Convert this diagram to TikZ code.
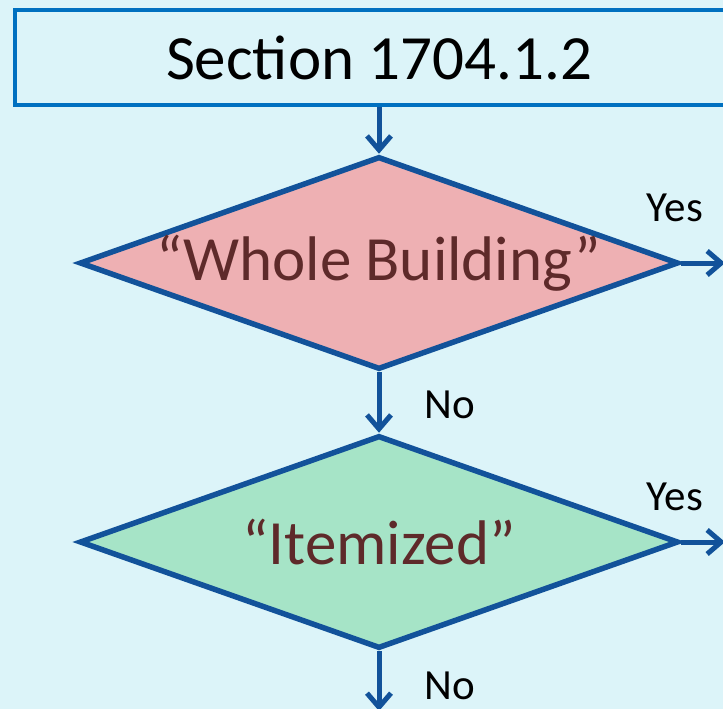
\documentclass[tikz,border=0pt]{standalone}
\usepackage{xcolor}
\usepackage{fontspec}
\setmainfont{Carlito}
\usetikzlibrary{shapes.geometric,arrows.meta,positioning}

\definecolor{bgcyan}{HTML}{DCF4F9}
\definecolor{boxblue}{HTML}{0070C0}
\definecolor{flowblue}{HTML}{12529A}
\definecolor{pinkfill}{HTML}{EEB0B3}
\definecolor{greenfill}{HTML}{A6E4C7}
\definecolor{quotered}{HTML}{5E2A2A}

\begin{document}
\begin{tikzpicture}[x=1pt, y=-1pt,
    box/.style={rectangle, draw=boxblue, line width=4.5pt, minimum width=728pt, minimum height=95pt, inner sep=0pt, font=\fontsize{63}{70}\selectfont},
    decision/.style={diamond, draw=flowblue, line width=5.5pt, minimum width=599pt, minimum height=213pt, inner sep=0pt, text=quotered, font=\fontsize{63}{70}\selectfont},
    lab/.style={font=\fontsize{43}{48}\selectfont, inner sep=0pt},
    arrow/.style={-{Straight Barb[length=14pt, width=24pt]}, line width=5pt, draw=flowblue}
]
    \fill[bgcyan] (0,0) rectangle (723,709);
    \useasboundingbox (0,0) rectangle (723,709);
    \clip (0,0) rectangle (723,709);

    % Section
    \node[box] (section) at (379,57.5) {Section 1704.1.2};

    % Decisions
    \node[decision, fill=pinkfill] (whole) at (379,263) {\makebox[0pt]{“Whole Building”}};
    \node[decision, fill=greenfill] (itemized) at (379,542) {\makebox[0pt]{“Itemized”}};

    % Loose ends
    \coordinate (yesA) at (725,263);
    \coordinate (yesB) at (725,542);
    \coordinate (noB) at (379,711);

    % Labels
    \node[lab] (yesAlab) at (675,208) {Yes};
    \node[lab] (yesBlab) at (675,497) {Yes};
    \node[lab] (noAlab) at (450,405) {No};
    \node[lab] (noBlab) at (450,686) {No};

    % Arrows
    \draw[arrow] (section) -- (whole);
    \draw[arrow] (whole) -- (itemized);
    \draw[arrow] (whole.east) -- (yesA);
    \draw[arrow] (itemized.east) -- (yesB);
    \draw[arrow] (itemized) -- (noB);
\end{tikzpicture}
\end{document}
